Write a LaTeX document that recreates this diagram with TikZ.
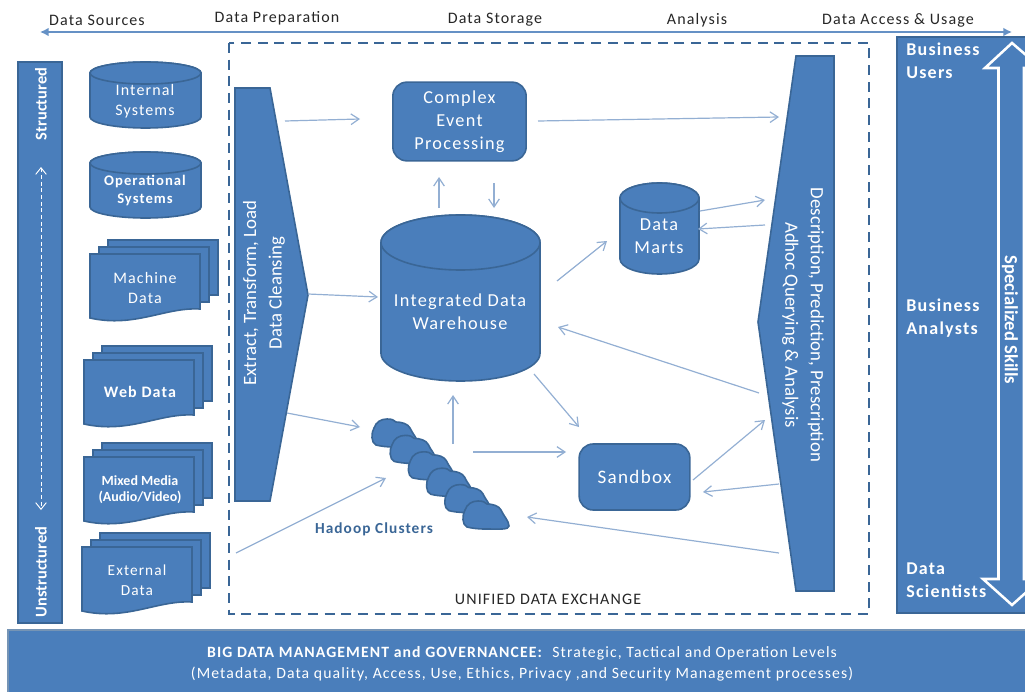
\documentclass[tikz,border=0pt]{standalone}
\usepackage{fontspec}
\setmainfont{Carlito}
\newfontfamily\spaced[LetterSpace=7]{Carlito}
\usetikzlibrary{arrows.meta}

\definecolor{bdblue}{HTML}{4A7EBB}
\definecolor{bdedge}{HTML}{3A6696}
\definecolor{bdflow}{HTML}{93AFD3}

\tikzset{
  solid box/.style={fill=bdblue,draw=bdedge,line width=1.2pt},
  round box/.style={solid box,rounded corners=10.5pt,inner sep=0pt},
  txt/.style={text=white,align=center,font=\spaced\fontsize{12}{15}\selectfont,inner sep=0pt},
  big txt/.style={text=white,align=center,font=\spaced\fontsize{13.7}{17.25}\selectfont,inner sep=0pt},
  side txt/.style={text=white,align=left,anchor=west,font=\spaced\bfseries\fontsize{13.5}{17.25}\selectfont,inner sep=0pt},
  turn txt/.style={text=white,align=center,font=\fontsize{14.1}{19}\selectfont,inner sep=0pt},
  head/.style={text=black!85,font=\spaced\fontsize{12}{12}\selectfont,inner sep=0pt},
  flow/.style={draw=bdflow,line width=.9pt,-{Straight Barb[length=6pt,width=8pt]}},
}

% centre x, top, bottom, x radius, y radius
\newcommand{\dbdrum}[5]{%
  \draw[solid box] (#1-#4,#2+#5) -- (#1-#4,#3-#5)
    arc[start angle=180,end angle=360,x radius=#4*.75pt,y radius=#5*.75pt]
    -- (#1+#4,#2+#5) arc[start angle=0,end angle=180,x radius=#4*.75pt,y radius=#5*.75pt] -- cycle;
  \draw[solid box] (#1,#2+#5) ellipse[x radius=#4*.75pt,y radius=#5*.75pt];}
\newcommand{\docsheet}[2]{%
  \draw[solid box] (#1,#2) -- (#1+110,#2) -- (#1+110,#2+55)
    .. controls (#1+75,#2+53) and (#1+45,#2+74) .. (#1,#2+64) -- cycle;}
\newcommand{\docstack}[2]{%
  \draw[solid box] (#1+18,#2-14) rectangle (#1+128,#2+41);
  \draw[solid box] (#1+9,#2-7) rectangle (#1+119,#2+48);
  \docsheet{#1}{#2}}

\begin{document}
\begin{tikzpicture}[x=0.75pt,y=-0.75pt]
  \useasboundingbox (0,0) rectangle (1025,692);

  % heading
  \coordinate (head left) at (40,32);
  \coordinate (head right) at (1012,32);
  \draw[draw=bdblue!85,line width=1.1pt,{Latex[length=6.5pt,width=6.5pt]}-{Latex[length=6.5pt,width=6.5pt]}] (head left) -- (head right);
  \node[head] (h1) at (97,20) {Data Sources};
  \node[head] (h2) at (277,18) {Data Preparation};
  \node[head] (h3) at (495,20) {Data Storage};
  \node[head] (h4) at (697,20) {Analysis};
  \node[head] (h5) at (898,20) {Data Access \& Usage};

  % exchange frame
  \draw[draw=bdedge,line width=1.7pt,dash pattern=on 7.5pt off 5pt] (229,43) rectangle (869,614);
  \node[head] (exchange) at (548,599) {UNIFIED DATA EXCHANGE};

  % left bar
  \draw[solid box] (18,62) rectangle (62,623);
  \node[rotate=90,text=white,font=\bfseries\fontsize{12.3}{12}\selectfont,inner sep=0pt] (structured) at (41,104) {Structured};
  \node[rotate=90,text=white,font=\bfseries\fontsize{12.3}{12}\selectfont,inner sep=0pt] (unstructured) at (41,572) {Unstructured};
  \coordinate (bar top) at (41,167);
  \coordinate (bar low) at (41,510);
  \draw[draw=white,line width=.7pt,densely dashed,{Straight Barb[length=5pt,width=8pt]}-{Straight Barb[length=5pt,width=8pt]}] (bar top) -- (bar low);

  % sources
  \dbdrum{145.5}{62}{128}{55.5}{11}
  \node[txt] (internal) at (145,101) {Internal\\Systems};
  \dbdrum{145.5}{152}{218}{55.5}{11}
  \node[txt,font=\spaced\bfseries\fontsize{11}{13.5}\selectfont] (operational) at (145,190) {Operational\\Systems};
  \docstack{90}{254}
  \node[txt] (machine) at (145,288) {Machine\\Data};
  \docstack{84}{360}
  \node[txt,font=\spaced\bfseries\fontsize{12}{15}\selectfont] (web) at (140,392) {Web Data};
  \docstack{84}{457}
  \node[txt,font=\bfseries\fontsize{10.5}{12}\selectfont] (mixed) at (140,490) {Mixed Media\\(Audio/Video)};
  \docstack{82}{547}
  \node[txt,font=\spaced\fontsize{11.5}{15}\selectfont] (external) at (137,580) {External\\Data};

  % preparation
  \draw[solid box] (235,88) -- (270,88) -- (308,295) -- (270,501) -- (235,501) -- cycle;
  \node[turn txt,rotate=90] (etl) at (264,293) {Extract, Transform, Load\\Data Cleansing};

  % storage
  \node[round box,big txt,minimum width=100pt,minimum height=59pt] (cep) at (459.5,121.5) {Complex\\Event\\Processing};
  \dbdrum{460.5}{215}{381}{79.5}{27.5}
  \node[big txt] (dw) at (460,312) {Integrated Data\\Warehouse};
  \dbdrum{659.5}{183}{274}{39.5}{15}
  \node[big txt] (marts) at (659,236.5) {Data\\Marts};
  \node[round box,big txt,font=\spaced\fontsize{14.3}{17.25}\selectfont,minimum width=83pt,minimum height=49.5pt] (sandbox) at (634.5,477) {Sandbox};

  % clusters
  \foreach \i in {0,...,5}
    \draw[solid box,shift={({372+18.2*\i},{419+16.4*\i})}] (4,26)
      .. controls (-1,24) and (-1,14) .. (2,9) .. controls (4,3) and (9,0) .. (15,0)
      .. controls (20,0) and (22,1) .. (24,3) .. controls (30,3) and (36,5) .. (38,9)
      .. controls (40,14) and (46,20) .. (46,25) .. controls (46,29) and (36,28) .. (22,28)
      .. controls (14,28) and (8,27) .. (4,26) -- cycle;
  \node[text=bdedge,font=\spaced\bfseries\fontsize{11.5}{12}\selectfont,inner sep=0pt] (hadoop) at (374,529) {Hadoop Clusters};

  % analysis
  \draw[solid box] (796,56) -- (834,56) -- (834,591) -- (796,591) -- (758,322) -- cycle;
  \node[turn txt,rotate=-90] (desc) at (803,325) {Description, Prediction, Prescription\\Adhoc Querying \& Analysis};

  % users
  \draw[solid box] (897,37) rectangle (1030,613);
  \begin{scope}
    \clip (897,37) rectangle (1025,613);
    \draw[draw=white,line width=1.9pt] (1012,43) -- (1041,68) -- (1024,68) -- (1024,579) -- (1041,579)
      -- (1012,605) -- (983,579) -- (998.5,579) -- (998.5,68) -- (985,68) -- cycle;
  \end{scope}
  \node[side txt] (users) at (906,61) {Business\\Users};
  \node[side txt] (analysts) at (906,318) {Business\\Analysts};
  \node[side txt] (scientists) at (906,580) {Data\\Scientists};
  \node[rotate=-90,text=white,font=\bfseries\fontsize{14}{14}\selectfont,inner sep=0pt] (skills) at (1010,320) {Specialized Skills};

  % governance
  \draw[solid box,draw=bdedge!70] (8,630) rectangle (1030,700);
  \node[text=white,align=center,font=\spaced\fontsize{11.8}{15.75}\selectfont,inner sep=0pt] (governance) at (522,664)
    {\textbf{BIG DATA MANAGEMENT and GOVERNANCEE:}\ \ Strategic, Tactical and Operation Levels\\
     (Metadata, Data quality, Access, Use, Ethics, Privacy ,and Security Management processes)};

  % connectors
  \foreach \name/\cx/\cy in {
    etl a/285/121, cep in/360/119, cep out/538/121, desc a/779/117,
    dw up/439/208, cep up/439/177, cep down/494/183, dw down/494/208,
    etl tip/308/294, dw in/378/297,
    etl b/287/413, hadoop a/360/427, ext out/236/553, hadoop b/386/478,
    hadoop up/453/444, dw low/453/395, hadoop out/473/452, sand in/566/452,
    dw ne/557/281, marts in/607/241, dw se/534/374, sand ne/579/427,
    marts e/700/211, desc b/765/200, desc c/765/225, marts f/698/229,
    desc d/759/393, dw e/558/327, sand out/693/480, desc e/765/420,
    desc f/779/484, sand f/703/492, desc g/779/553, hadoop c/527/517}
    \coordinate (\name) at (\cx,\cy);
  \foreach \from/\to in {etl a/cep in, cep out/desc a, dw up/cep up, cep down/dw down,
    etl tip/dw in, etl b/hadoop a, ext out/hadoop b, hadoop up/dw low, hadoop out/sand in,
    dw ne/marts in, dw se/sand ne, marts e/desc b, desc c/marts f, desc d/dw e,
    sand out/desc e, desc f/sand f, desc g/hadoop c}
    \draw[flow] (\from) -- (\to);
\end{tikzpicture}
\end{document}
